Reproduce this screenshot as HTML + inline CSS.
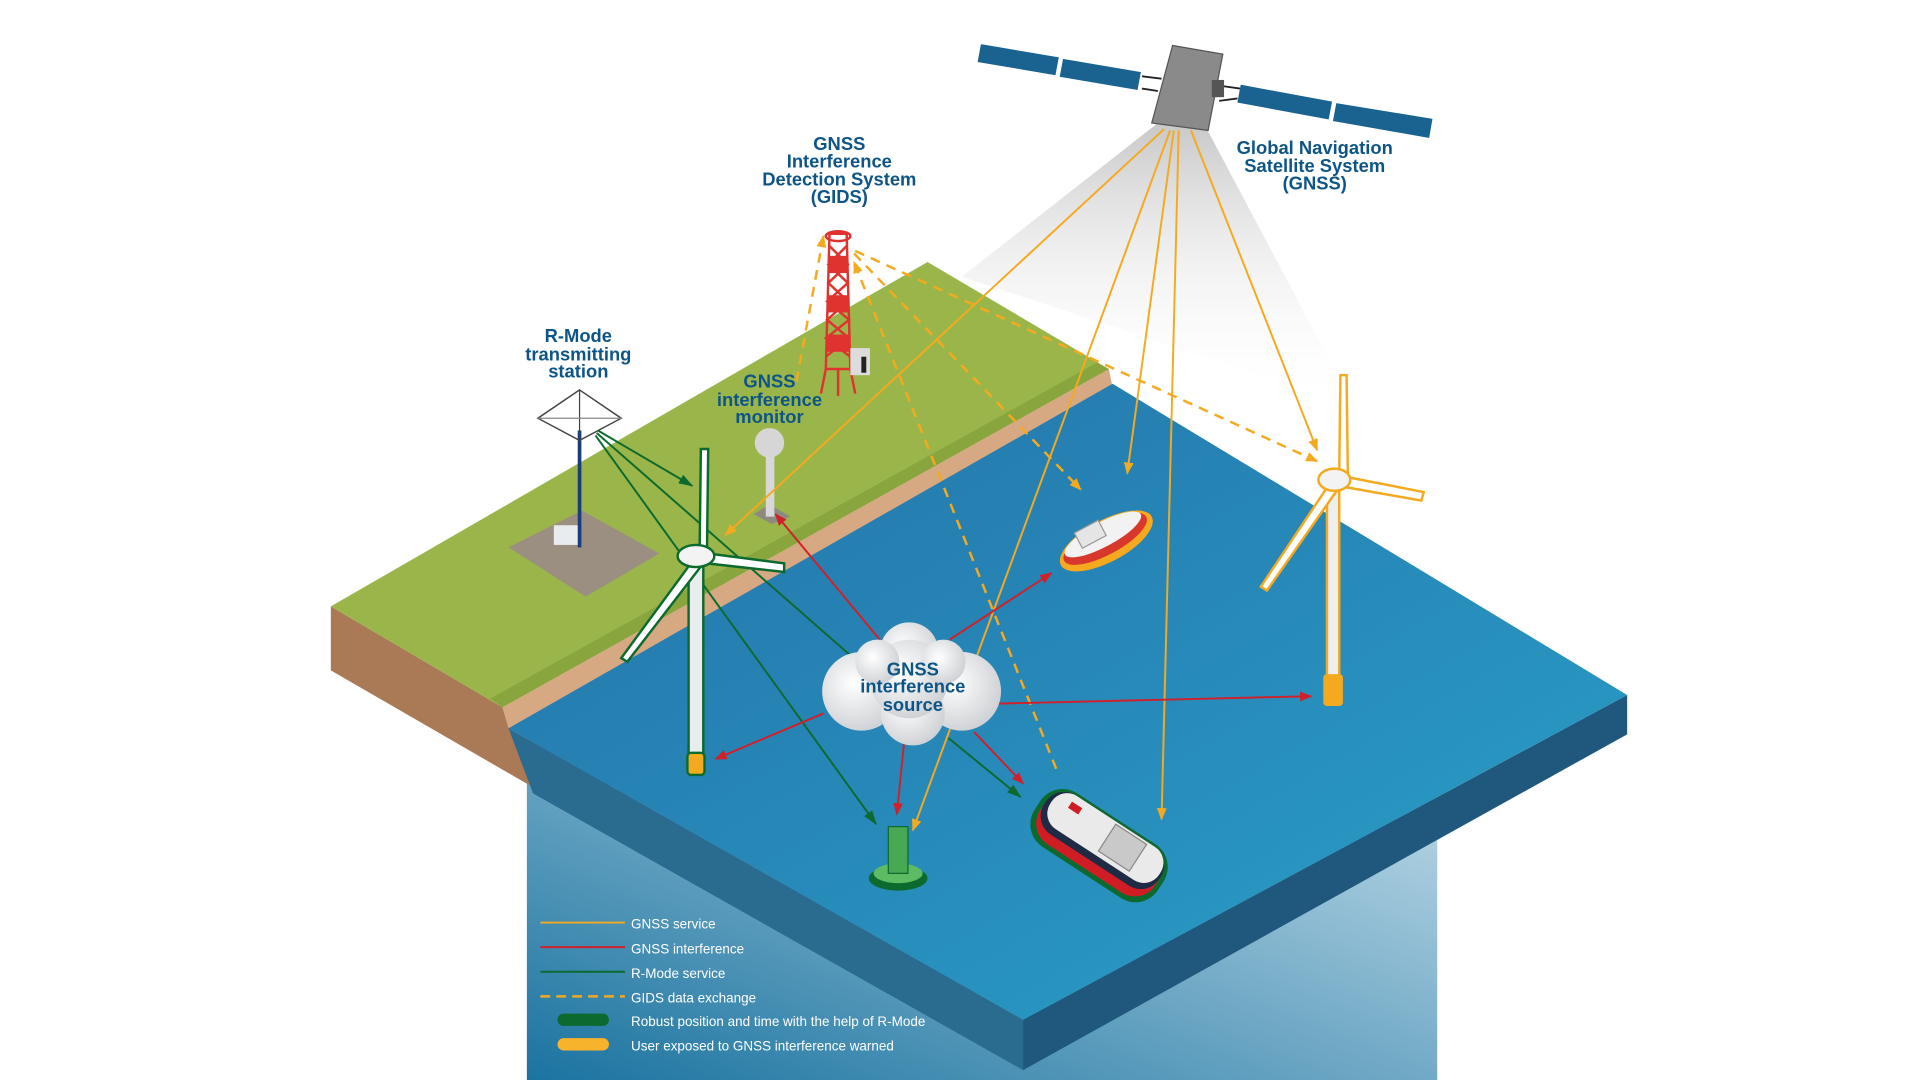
<!DOCTYPE html>
<html><head><meta charset="utf-8"><style>
html,body{margin:0;padding:0;background:#fff;width:1920px;height:1080px;overflow:hidden}
svg{display:block}
.lb{font-family:"Liberation Sans Narrow","Liberation Sans",sans-serif;font-weight:bold;fill:#0d5587;font-size:15px;text-anchor:middle}
.lg{font-family:"Liberation Sans Narrow","Liberation Sans",sans-serif;fill:#fff;font-size:11px}
</style></head><body>
<svg width="1920" height="1080" viewBox="0 0 1567 878" preserveAspectRatio="none" xmlns="http://www.w3.org/2000/svg">
<defs>
<linearGradient id="rect" x1="1" y1="0" x2="0" y2="1"><stop offset="0" stop-color="#c8e0ec"/><stop offset="1" stop-color="#1a73a0"/></linearGradient>
<linearGradient id="sea" x1="0" y1="0" x2="1" y2="1"><stop offset="0" stop-color="#2472a8"/><stop offset="1" stop-color="#2aa0c9"/></linearGradient>
<linearGradient id="cone" x1="0" y1="0" x2="0" y2="1"><stop offset="0" stop-color="#c8c8c8"/><stop offset="1" stop-color="#fff" stop-opacity="0"/></linearGradient>
<radialGradient id="cl" cx="0.4" cy="0.4" r="0.7"><stop offset="0" stop-color="#fff"/><stop offset="1" stop-color="#c9ccd0"/></radialGradient>
<marker id="ay" markerWidth="10" markerHeight="10" refX="9" refY="5" orient="auto" markerUnits="userSpaceOnUse"><path d="M0,1 L10,5 L0,9 Z" fill="#f5a91f"/></marker>
<marker id="ar" markerWidth="10" markerHeight="10" refX="9" refY="5" orient="auto" markerUnits="userSpaceOnUse"><path d="M0,1 L10,5 L0,9 Z" fill="#d0202a"/></marker>
<marker id="ag" markerWidth="12" markerHeight="10" refX="11" refY="5" orient="auto" markerUnits="userSpaceOnUse"><path d="M0,1 L12,5 L0,9 Z" fill="#0c6a2e"/></marker>
</defs>
<rect x="430" y="590" width="743" height="290" fill="url(#rect)"/>
<polygon points="945,100 985,105 1105,330 785,225" fill="url(#cone)"/>
<!-- land -->
<polygon points="270,493 410,575 435,640 270,545" fill="#a97a55"/>
<polygon points="410,575 905,300 908,315 415,592" fill="#d7a982"/>
<polygon points="270,493 757,213 905,300 410,575" fill="#9ab64a"/>
<polygon points="400,568 895,295 905,300 410,575" fill="#88a53e"/>
<!-- ocean -->
<polygon points="415,592 835,829 835,870 435,645" fill="#2a6c90"/>
<polygon points="835,829 1328,565 1328,597 835,870" fill="#1f587c"/>
<polygon points="415,592 908,312 1328,565 835,829" fill="url(#sea)"/>
<!-- R-mode station -->
<polygon points="415,445 475,415 538,450 478,485" fill="#9a8f80"/>
<rect x="452" y="427" width="20" height="16" fill="#e8ecef"/>
<line x1="473" y1="350" x2="473" y2="445" stroke="#1b3c7a" stroke-width="3"/>
<polygon points="473,317 507,340 473,358 439,340" fill="none" stroke="#444" stroke-width="1.2"/>
<line x1="473" y1="317" x2="473" y2="358" stroke="#444"/><line x1="439" y1="340" x2="507" y2="340" stroke="#888"/>
<!-- GIDS tower -->
<g stroke="#e0332f" stroke-width="2" fill="none">
<polygon points="677,190 691,190 694,300 674,300"/>
<path d="M677,200 L692,215 L676,230 L692,245 L675,260 L693,275 L674,290 M691,200 L676,215 L692,230 L675,245 L693,260 L674,275 L694,290"/>
<path d="M674,300 L670,320 M694,300 L698,320 M684,300 L684,322"/>
</g>
<rect x="676" y="208" width="16" height="14" fill="#e0332f"/><rect x="675" y="240" width="18" height="14" fill="#e0332f"/><rect x="674" y="272" width="20" height="14" fill="#e0332f"/>
<ellipse cx="684" cy="192" rx="10" ry="4" fill="none" stroke="#e0332f" stroke-width="2"/>
<rect x="694" y="283" width="16" height="22" fill="#dcdcdc"/><rect x="703" y="290" width="4" height="13" fill="#222"/>
<!-- monitor -->
<polygon points="615,418 628,410 645,420 630,426" fill="#8e8a80"/>
<rect x="625" y="365" width="7" height="55" fill="#d8d8d8"/>
<ellipse cx="628" cy="360" rx="12" ry="12" fill="#d6d6d6"/>
<!-- satellite -->
<g fill="#1a6390" stroke="#fff" stroke-width="1.5">
<polygon points="800,35 865,46 862,62 797,51"/><polygon points="867,47 932,58 929,74 864,63"/>
<polygon points="1012,68 1088,82 1085,98 1009,84"/><polygon points="1090,83 1170,96 1167,113 1087,99"/>
</g>
<path d="M932,62 L948,64 M932,72 L945,74 M998,70 L1012,72 M995,82 L1010,80" stroke="#222" stroke-width="1.5"/>
<polygon points="957,37 998,44 986,106 940,100" fill="#8a8a8a" stroke="#555"/>
<rect x="989" y="65" width="10" height="14" fill="#555"/>
<!-- yellow lines -->
<g stroke="#f5a91f" stroke-width="1.6" fill="none" marker-end="url(#ay)">
<line x1="950" y1="105" x2="592" y2="435"/><line x1="955" y1="106" x2="745" y2="675"/>
<line x1="958" y1="106" x2="920" y2="385"/><line x1="962" y1="106" x2="948" y2="666"/>
<line x1="972" y1="106" x2="1075" y2="366"/>
</g>
<g stroke="#f5a91f" stroke-width="2" stroke-dasharray="8,6" fill="none" marker-end="url(#ay)">
<line x1="650" y1="310" x2="672" y2="192"/><line x1="862" y1="625" x2="697" y2="213"/>
<line x1="697" y1="206" x2="882" y2="398"/><line x1="698" y1="204" x2="1075" y2="375"/>
</g>
<g stroke="#0c6a2e" stroke-width="1.6" fill="none">
<line x1="488" y1="350" x2="565" y2="395" marker-end="url(#ag)"/>
<line x1="487" y1="352" x2="700" y2="538"/>
<line x1="486" y1="354" x2="715" y2="670" marker-end="url(#ag)"/>
<line x1="774" y1="600" x2="833" y2="648" marker-end="url(#ag)"/>
</g>
<!-- land turbine -->
<rect x="562" y="455" width="12" height="160" fill="#e9eced" stroke="#0c6a2e" stroke-width="2"/>
<rect x="561" y="612" width="14" height="18" rx="3" fill="#f5a91f" stroke="#0c6a2e" stroke-width="2"/>
<g stroke="#0c6a2e" stroke-width="2" fill="#fff">
<polygon points="572,365 578,365 577,448 571,448"/><polygon points="566,455 574,458 512,538 507,535"/><polygon points="578,450 640,458 640,465 577,458"/>
</g>
<ellipse cx="568" cy="452" rx="15" ry="9" fill="#f3f3f3" stroke="#0c6a2e" stroke-width="2"/>
<!-- right turbine -->
<rect x="1083" y="395" width="10" height="155" fill="#eee" stroke="#f5a91f" stroke-width="2"/>
<rect x="1080" y="548" width="16" height="26" rx="3" fill="#f5a91f"/>
<g stroke="#f5a91f" stroke-width="2" fill="#fff">
<polygon points="1094,305 1099,305 1100,384 1093,384"/><polygon points="1086,392 1093,396 1034,480 1029,477"/><polygon points="1100,388 1162,400 1160,407 1098,396"/>
</g>
<ellipse cx="1089" cy="390" rx="13" ry="9" fill="#f3f3f3" stroke="#f5a91f" stroke-width="2"/>
<!-- tug -->
<g transform="rotate(-28 902 438)">
<ellipse cx="902" cy="440" rx="42" ry="17" fill="#f5a91f"/>
<ellipse cx="902" cy="438" rx="38" ry="13" fill="#d8372b"/>
<ellipse cx="902" cy="434" rx="35" ry="10" fill="#f2f2f2"/>
<rect x="882" y="422" width="22" height="14" fill="#e5e5e5" stroke="#999"/>
</g>
<!-- ship -->
<g transform="rotate(33 895 685)">
<rect x="838" y="660" width="120" height="52" rx="22" fill="#0c6a2e"/>
<rect x="842" y="664" width="112" height="44" rx="20" fill="#d01d24"/>
<rect x="842" y="662" width="112" height="38" rx="18" fill="#1f2a44"/>
<rect x="846" y="662" width="106" height="32" rx="15" fill="#eaeaea"/>
<rect x="900" y="664" width="30" height="26" fill="#c9c9c9" stroke="#888"/>
<rect x="860" y="668" width="10" height="6" fill="#d01d24"/>
</g>
<!-- buoy -->
<ellipse cx="733" cy="714" rx="24" ry="10" fill="#0c6a2e"/>
<ellipse cx="733" cy="710" rx="20" ry="8" fill="#5dbb63"/>
<rect x="725" y="672" width="16" height="38" fill="#49a854" stroke="#0c6a2e"/>
<g stroke="#d0202a" stroke-width="1.6" fill="none" marker-end="url(#ar)">
<line x1="718" y1="520" x2="633" y2="418"/><line x1="775" y1="520" x2="858" y2="466"/>
<line x1="815" y1="572" x2="1070" y2="566"/><line x1="672" y1="580" x2="584" y2="617"/>
<line x1="738" y1="602" x2="732" y2="662"/><line x1="795" y1="595" x2="835" y2="637"/>
</g>
<!-- cloud -->
<g fill="url(#cl)">
<circle cx="742" cy="530" r="24"/><circle cx="703" cy="562" r="32"/><circle cx="785" cy="562" r="32"/>
<circle cx="745" cy="580" r="26"/><circle cx="742" cy="552" r="32"/><circle cx="716" cy="538" r="18"/><circle cx="770" cy="538" r="18"/>
</g>
<text class="lb" x="685" y="122">GNSS</text><text class="lb" x="685" y="136">Interference</text><text class="lb" x="685" y="151">Detection System</text><text class="lb" x="685" y="165">(GIDS)</text>
<text class="lb" x="1073" y="125">Global Navigation</text><text class="lb" x="1073" y="140">Satellite System</text><text class="lb" x="1073" y="154">(GNSS)</text>
<text class="lb" x="472" y="278">R-Mode</text><text class="lb" x="472" y="293">transmitting</text><text class="lb" x="472" y="307">station</text>
<text class="lb" x="628" y="315">GNSS</text><text class="lb" x="628" y="330">interference</text><text class="lb" x="628" y="344">monitor</text>
<text class="lb" x="745" y="549">GNSS</text><text class="lb" x="745" y="563">interference</text><text class="lb" x="745" y="578">source</text>
<line x1="441" y1="750" x2="510" y2="750" stroke="#f5a91f" stroke-width="1.6"/>
<line x1="441" y1="770" x2="510" y2="770" stroke="#d0202a" stroke-width="1.6"/>
<line x1="441" y1="790" x2="510" y2="790" stroke="#0c6a2e" stroke-width="1.6"/>
<line x1="441" y1="810" x2="510" y2="810" stroke="#f5a91f" stroke-width="2" stroke-dasharray="8,5"/>
<rect x="455" y="824" width="42" height="10" rx="5" fill="#0c6a2e"/>
<rect x="455" y="844" width="42" height="10" rx="5" fill="#f8b32d"/>
<text class="lg" x="515" y="755">GNSS service</text>
<text class="lg" x="515" y="775">GNSS interference</text>
<text class="lg" x="515" y="795">R-Mode service</text>
<text class="lg" x="515" y="815">GIDS data exchange</text>
<text class="lg" x="515" y="834">Robust position and time with the help of R-Mode</text>
<text class="lg" x="515" y="854">User exposed to GNSS interference warned</text>
</svg>
</body></html>
